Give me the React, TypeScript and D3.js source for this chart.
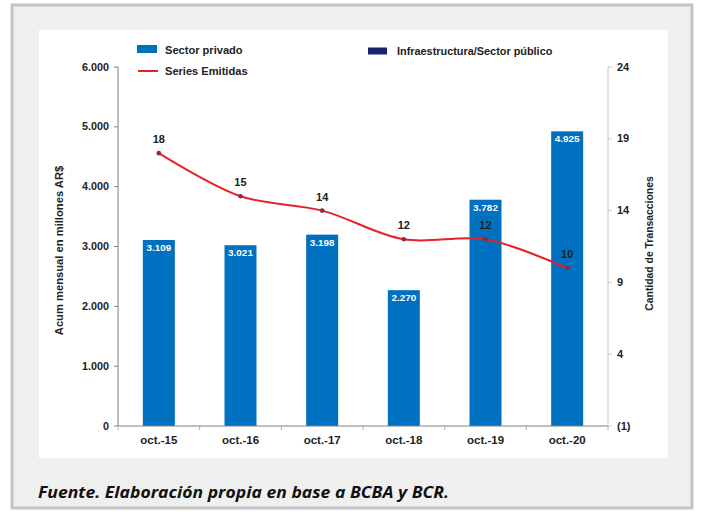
import React from "react";
import * as d3 from "d3";

const categories = ["oct.-15", "oct.-16", "oct.-17", "oct.-18", "oct.-19", "oct.-20"];
const sectorPrivado = [3109, 3021, 3198, 2270, 3782, 4925];
const seriesEmitidas = [18, 15, 14, 12, 12, 10];
const leftTicks = [0, 1000, 2000, 3000, 4000, 5000, 6000];
const rightTicks = [-1, 4, 9, 14, 19, 24];
const caption = "Fuente. Elaboración propia en base a BCBA y BCR.";

const fmt = (v: number) => d3.format(",")(v).replace(/,/g, ".");
const fmtR = (v: number) => (v < 0 ? `(${Math.abs(v)})` : `${v}`);

type TProps = {
  x: number;
  y: number;
  size?: number;
  sx?: number;
  rot?: number;
  anchor?: "start" | "middle" | "end";
  fill?: string;
  children: React.ReactNode;
};

function T({ x, y, size = 10, sx = 1.1, rot = 0, anchor = "start", fill = "#222", children }: TProps) {
  return (
    <text
      transform={`translate(${x},${y}) rotate(${rot}) scale(${sx},1)`}
      fontSize={size}
      fontWeight="bold"
      textAnchor={anchor}
      fill={fill}
    >
      {children}
    </text>
  );
}

export default function App() {
  const W = 701, H = 514;
  const plotL = 118, plotR = 608, plotT = 67, plotB = 426;
  const xOuter = d3.scaleBand<string>().domain(categories).range([plotL, plotR]);
  const yL = d3.scaleLinear().domain([0, 6000]).range([plotB, plotT]);
  const yR = d3.scaleLinear().domain([-1, 24]).range([plotB, plotT]);
  const cx = (c: string) => (xOuter(c) as number) + xOuter.bandwidth() / 2;
  const bw = 32;
  const line = d3
    .line<number>()
    .x((_, i) => cx(categories[i]))
    .y((d) => yR(d))
    .curve(d3.curveCatmullRom.alpha(0.5));
  const font = "'Liberation Sans', Arial, sans-serif";
  return (
    <svg width={W} height={H} style={{ position: "absolute", left: 0, top: 0 }} fontFamily={font}>
      <rect x={0} y={0} width={W} height={H} fill="#ffffff" />
      <rect x={12} y={5} width={680} height={503} fill="#efefef" stroke="#c4c4c4" strokeWidth={3} />
      <rect x={39} y={30} width={629} height={428} fill="#ffffff" />
      {/* bars */}
      {categories.map((c, i) => (
        <g key={c}>
          <rect x={cx(c) - bw / 2} y={yL(sectorPrivado[i])} width={bw} height={plotB - yL(sectorPrivado[i])} fill="#0070c0" />
          <T x={cx(c)} y={yL(sectorPrivado[i]) + 11} size={9} sx={1.1} anchor="middle" fill="#ffffff">
            {fmt(sectorPrivado[i])}
          </T>
        </g>
      ))}
      {/* left axis */}
      <line x1={plotL} x2={plotL} y1={plotT} y2={plotB} stroke="#808080" strokeWidth={1} />
      {leftTicks.map((t) => (
        <g key={t}>
          <line x1={plotL - 4} x2={plotL} y1={yL(t)} y2={yL(t)} stroke="#808080" />
          <T x={plotL - 9} y={yL(t) + 3.5} size={10} sx={1.08} anchor="end">
            {fmt(t)}
          </T>
        </g>
      ))}
      {/* right axis */}
      <line x1={plotR} x2={plotR} y1={plotT} y2={plotB} stroke="#c8c8c8" strokeWidth={1} />
      {rightTicks.map((t) => (
        <g key={t}>
          <line x1={plotR} x2={plotR + 4} y1={yR(t)} y2={yR(t)} stroke="#c8c8c8" />
          <T x={plotR + 9} y={yR(t) + 3.5} size={10} sx={1.1}>
            {fmtR(t)}
          </T>
        </g>
      ))}
      {/* x axis */}
      <line x1={plotL} x2={plotR} y1={plotB} y2={plotB} stroke="#808080" />
      {categories.map((c, i) => (
        <g key={c}>
          <line x1={xOuter(c) as number} x2={xOuter(c) as number} y1={plotB} y2={plotB + 4} stroke="#b0b0b0" />
          {i === categories.length - 1 && (
            <line x1={plotR} x2={plotR} y1={plotB} y2={plotB + 4} stroke="#b0b0b0" />
          )}
          <T x={cx(c)} y={plotB + 17.5} size={10} sx={1.15} anchor="middle">
            {c}
          </T>
        </g>
      ))}
      {/* line series */}
      <path d={line(seriesEmitidas) || ""} fill="none" stroke="#e8202a" strokeWidth={2} />
      {seriesEmitidas.map((v, i) => (
        <g key={i}>
          <circle cx={cx(categories[i])} cy={yR(v)} r={2.3} fill="#8a2a3a" />
          <T x={cx(categories[i])} y={yR(v) - 10} size={10.5} sx={1.05} anchor="middle">
            {v}
          </T>
        </g>
      ))}
      {/* axis titles */}
      <T x={63} y={(plotT + plotB) / 2 + 4} size={10} sx={1.12} rot={-90} anchor="middle">
        Acum mensual en millones AR$
      </T>
      <T x={653} y={(plotT + plotB) / 2 - 3} size={10} sx={1.04} rot={-90} anchor="middle">
        Cantidad de Transacciones
      </T>
      {/* legend */}
      <rect x={137} y={45} width={20} height={8} fill="#0070c0" />
      <T x={165} y={53.5} size={10} sx={1.11}>Sector privado</T>
      <line x1={138} x2={158} y1={71} y2={71} stroke="#e8202a" strokeWidth={2} />
      <T x={165} y={74.5} size={10} sx={1.11}>Series Emitidas</T>
      <rect x={368} y={47.5} width={19} height={7} fill="#14246b" />
      <T x={397} y={55} size={10} sx={1.09}>Infraestructura/Sector público</T>
      {/* caption */}
      <text
        x={38}
        y={498}
        fontFamily="'Open Sans', sans-serif"
        fontStyle="italic"
        fontWeight="bold"
        fontSize={16.5}
        fill="#111"
        textLength={411}
        lengthAdjust="spacingAndGlyphs"
      >
        {caption}
      </text>
    </svg>
  );
}
